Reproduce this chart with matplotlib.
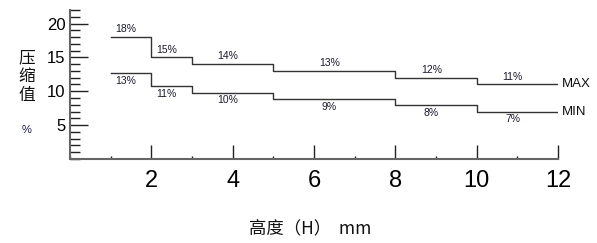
import matplotlib
matplotlib.use("Agg")
import matplotlib.pyplot as plt
from matplotlib.ticker import MultipleLocator

plt.rcParams['font.family'] = ['Noto Sans CJK SC', 'DejaVu Sans']

# step edges (mm) and compression values (%)
edges = [1, 2, 3, 5, 8, 10, 12]
max_vals = [18, 15, 14, 13, 12, 11]
min_vals = [12.7, 10.8, 9.8, 8.8, 7.9, 7.0]
max_labels = ["18%", "15%", "14%", "13%", "12%", "11%"]
min_labels = ["13%", "11%", "10%", "9%", "8%", "7%"]
xticks = [2, 4, 6, 8, 10, 12]
yticks = [5, 10, 15, 20]

arial = ['Liberation Sans', 'DejaVu Sans']

fig = plt.figure(figsize=(5.97, 2.43), dpi=100)
ax = fig.add_axes([0.117, 0.346, 0.818, 0.613])

ax.step(edges, max_vals + [max_vals[-1]], where='post', color='#333333', lw=1.0)
ax.step(edges, min_vals + [min_vals[-1]], where='post', color='#333333', lw=1.0)

for i in range(len(max_vals)):
    xm = (edges[i] + edges[i + 1]) / 2 - 0.12
    ax.text(xm, max_vals[i] + 0.4, max_labels[i], ha='center', va='bottom',
            fontsize=7.5, family=arial, color='#1a1a2e')
    ax.text(xm, min_vals[i] - 0.4, min_labels[i], ha='center', va='top',
            fontsize=7.5, family=arial, color='#1a1a2e')

ax.text(12.08, max_vals[-1], "MAX", ha='left', va='center', fontsize=9.5,
        family=arial, fontweight='medium', color='#111111')
ax.text(12.08, min_vals[-1], "MIN", ha='left', va='center', fontsize=9.5,
        family=arial, fontweight='medium', color='#111111')

ax.set_xlim(0, 12)
ax.set_ylim(0, 22)
ax.set_xticks(xticks)
ax.set_yticks(yticks)
ax.xaxis.set_minor_locator(MultipleLocator(1))
ax.yaxis.set_minor_locator(MultipleLocator(1))
ax.set_xticklabels([str(t) for t in xticks], family=arial, fontsize=17)
ax.set_yticklabels([str(t) for t in yticks], family=arial, fontsize=12)

for s in ['top', 'right']:
    ax.spines[s].set_visible(False)
for s in ['left', 'bottom']:
    ax.spines[s].set_color('#666666')
    ax.spines[s].set_linewidth(1.5)

ax.tick_params(axis='x', which='major', direction='in', length=10, width=1,
               color='#222222', pad=8)
ax.tick_params(axis='x', which='minor', direction='in', length=2.5, width=1,
               color='#222222')
ax.tick_params(axis='y', which='major', direction='in', length=13, width=1,
               color='#222222', pad=3)
ax.tick_params(axis='y', which='minor', direction='in', length=7, width=1,
               color='#222222')

fig.text(0.045, 0.685, "压\n缩\n值", ha='center', va='center', fontsize=12,
         linespacing=1.15, color='#111111')
fig.text(0.045, 0.465, "%", ha='center', va='center', fontsize=8,
         family=arial, color='#1a1a4e')
fig.text(0.52, 0.058, "高度（H）  mm", ha='center', va='center', fontsize=12.5,
         color='#111111')

fig.savefig("out.png", dpi=100)
